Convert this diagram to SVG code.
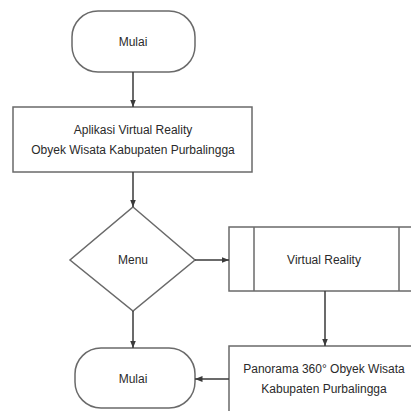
<svg xmlns="http://www.w3.org/2000/svg" width="411" height="411" viewBox="0 0 411 411">
<style>
.s{fill:#fff;stroke:#6a6a6a;stroke-width:1.5}
.t{font-family:"Liberation Sans",Arial,sans-serif;font-size:12px;fill:#2a2a2a;text-anchor:middle;dominant-baseline:central}
.c{stroke:#3a3a3a;stroke-width:1.5;fill:none}
</style>
<defs>
<marker id="a" viewBox="0 0 10 10" refX="10" refY="5" markerWidth="5" markerHeight="5" orient="auto"><path d="M0,1L10,5L0,9z" fill="#3a3a3a"/></marker>
</defs>
<rect width="411" height="411" fill="#fff"/>
<g id="mulai1"><rect class="s" x="72" y="11" width="123" height="61" rx="26"/><text class="t" x="133" y="42">Mulai</text></g>
<g id="aplikasi"><rect class="s" x="13" y="107" width="239" height="65"/><text class="t" x="133" y="130">Aplikasi Virtual Reality</text><text class="t" x="133" y="150">Obyek Wisata Kabupaten Purbalingga</text></g>
<g id="menu"><path class="s" d="M133,207L195,260L133,311L70,260z"/><text class="t" x="133" y="260">Menu</text></g>
<g id="vr"><rect class="s" x="229" y="227" width="190" height="64"/><line class="s" x1="254" y1="227" x2="254" y2="291"/><line class="s" x1="399" y1="227" x2="399" y2="291"/><text class="t" x="324" y="260">Virtual Reality</text></g>
<g id="panorama"><rect class="s" x="229" y="346" width="190" height="70"/><text class="t" x="324" y="369">Panorama 360° Obyek Wisata</text><text class="t" x="324" y="389">Kabupaten Purbalingga</text></g>
<g id="mulai2"><rect class="s" x="75" y="348" width="120" height="60" rx="26"/><text class="t" x="133" y="379">Mulai</text></g>
<g id="connectors">
<line class="c" x1="133" y1="72" x2="133" y2="107" marker-end="url(#a)"/>
<line class="c" x1="133" y1="172" x2="133" y2="207" marker-end="url(#a)"/>
<line class="c" x1="195" y1="260" x2="229" y2="260" marker-end="url(#a)"/>
<line class="c" x1="325" y1="291" x2="325" y2="346" marker-end="url(#a)"/>
<line class="c" x1="133" y1="311" x2="133" y2="348" marker-end="url(#a)"/>
<line class="c" x1="229" y1="379" x2="195" y2="379" marker-end="url(#a)"/>
</g>
</svg>
